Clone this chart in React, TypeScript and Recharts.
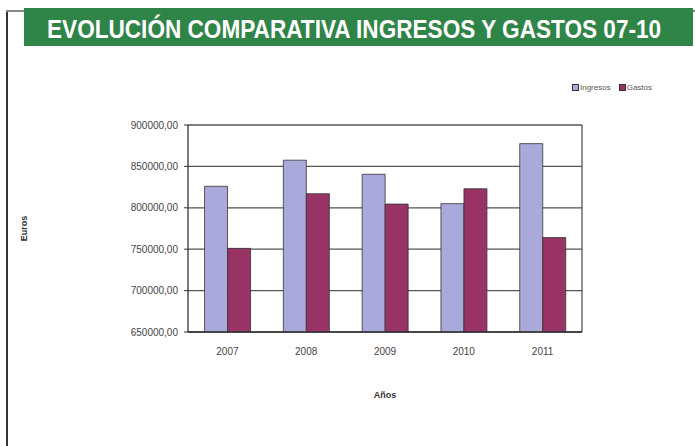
import React from 'react';
import { BarChart, Bar, XAxis, YAxis, CartesianGrid, Label } from 'recharts';

const years = ['2007', '2008', '2009', '2010', '2011'];
const ingresos = [826000, 857500, 840500, 805000, 877500];
const gastos = [751000, 817000, 804500, 823000, 764000];
const yTicks = [650000, 700000, 750000, 800000, 850000, 900000];

const data = years.map((y, i) => ({ year: y, Ingresos: ingresos[i], Gastos: gastos[i] }));

const fmt = (v: number) => v.toFixed(2).replace('.', ',');

const font = 'Liberation Sans, Arial, sans-serif';

const LegendBox = () => (
  <div style={{ position: 'absolute', left: 572, top: 83, display: 'flex', gap: 8, fontFamily: font, fontSize: 8, color: '#555' }}>
    {[['Ingresos', '#a9a9dc'], ['Gastos', '#993366']].map(([n, c]) => (
      <div key={n} style={{ display: 'flex', alignItems: 'center' }}>
        <span style={{ display: 'inline-block', width: 5, height: 5, background: c, border: '1px solid #333', marginRight: 1 }} />
        <span>{n}</span>
      </div>
    ))}
  </div>
);

export default function App() {
  return (
    <div style={{ position: 'absolute', left: 0, top: 0, width: 695, height: 446, background: '#fff', overflow: 'hidden' }}>
      <div style={{ position: 'absolute', left: 6, top: 10, width: 1.5, height: 436, background: '#333' }} />
      <div style={{ position: 'absolute', left: 6, top: 10, width: 689, height: 1.5, background: '#888' }} />
      <svg style={{ position: 'absolute', left: 24, top: 8 }} width={669} height={38}>
        <rect x={0} y={0} width={669} height={38} fill="#2f8447" />
        <g transform="translate(23,30) scale(1,1.106)">
          <text x={0} y={0} fill="#fff" fontFamily={font} fontWeight="bold" fontSize={22.6}>
            EVOLUCIÓN COMPARATIVA INGRESOS Y GASTOS 07-10
          </text>
        </g>
      </svg>
      <LegendBox />
      <div style={{ position: 'absolute', left: 0, top: 0 }}>
        <BarChart
          width={695}
          height={446}
          data={data}
          margin={{ top: 125, right: 113, left: 108, bottom: 84 }}
          barCategoryGap="21%"
          barGap={0}
        >
          <CartesianGrid
            vertical={true}
            stroke="#555"
            strokeWidth={1.3}
            verticalCoordinatesGenerator={({ offset }: any) => [offset.left + offset.width]}
          />
          <XAxis
            dataKey="year"
            height={30}
            tick={{ fill: '#444', fontSize: 10, fontFamily: font }}
            tickLine={false}
            axisLine={{ stroke: '#333', strokeWidth: 1.3 }}
            tickMargin={10}
          >
            <Label value="Años" position="bottom" offset={30} style={{ fill: '#333', fontSize: 9, fontWeight: 'bold', fontFamily: font }} />
          </XAxis>
          <YAxis
            width={80}
            domain={[650000, 900000]}
            ticks={yTicks}
            tickFormatter={fmt}
            allowDataOverflow
            tick={{ fill: '#444', fontSize: 10, fontFamily: font }}
            tickLine={{ stroke: '#333' }}
            tickSize={4}
            tickMargin={6}
            axisLine={{ stroke: '#333', strokeWidth: 1.3 }}
          >
            <Label value="Euros" angle={-90} position="left" offset={84} style={{ fill: '#333', fontSize: 9, fontWeight: 'bold', fontFamily: font, textAnchor: 'middle' }} />
          </YAxis>
          <Bar dataKey="Ingresos" fill="#a9a9dc" stroke="#333" strokeWidth={0.8} isAnimationActive={false} />
          <Bar dataKey="Gastos" fill="#993366" stroke="#333" strokeWidth={0.8} isAnimationActive={false} />
        </BarChart>
      </div>
    </div>
  );
}
